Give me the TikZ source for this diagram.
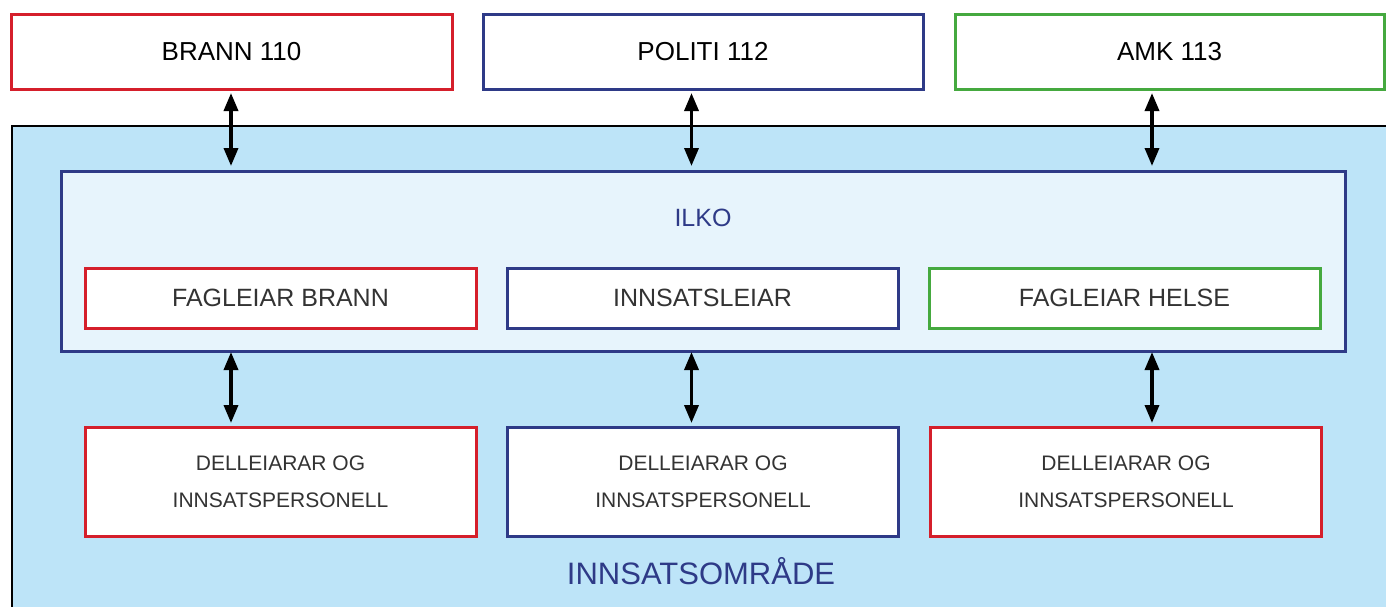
\documentclass[tikz,border=0pt]{standalone}
\usepackage{fontspec}
\setmainfont{Liberation Sans}
\usepackage{xcolor}
\usetikzlibrary{arrows.meta}
\usetikzlibrary{calc}
\usetikzlibrary{positioning}

\definecolor{brannred}{HTML}{D51F2B}
\definecolor{politiblue}{HTML}{2E3A87}
\definecolor{amkgreen}{HTML}{45A93F}
\definecolor{areablue}{HTML}{BDE4F8}
\definecolor{ilkoblue}{HTML}{E7F4FC}
\definecolor{textgrey}{HTML}{333333}

\begin{document}
\begin{tikzpicture}[x=1pt,y=-1pt,semithick]
  \tikzstyle{box}=[draw, rectangle, fill=white, line width=3pt, inner sep=0pt, outer sep=0pt]
  \tikzstyle{topbox}=[box, minimum height=75pt, font=\fontsize{26}{30}\selectfont]
  \tikzstyle{leadbox}=[box, minimum width=391pt, minimum height=60pt, text=textgrey, font=\fontsize{25}{30}\selectfont]
  \tikzstyle{unitbox}=[box, minimum width=391pt, minimum height=109pt, text=textgrey, align=center, font=\fontsize{21}{37}\selectfont]
  \tikzstyle{biarrow}=[{Triangle[length=18pt,width=14pt]}-{Triangle[length=18pt,width=14pt]}, line width=3.5pt, black]

  \useasboundingbox (0,0) rectangle (1386,606);

  % innsatsomraade
  \fill[areablue] (12,126) rectangle (1390,610);
  \draw[line width=1.5pt] (1390,126) -- (12,126) -- (12,610);
  \node[text=politiblue, font=\fontsize{31}{36}\selectfont] (omraade) at (701,571) {INNSATSOMRÅDE};

  % naudetatane
  \node[topbox, draw=brannred, minimum width=441pt] (brann) at (231.5,51.5) {BRANN 110};
  \node[topbox, draw=politiblue, minimum width=440pt] (politi) at (703,51.5) {POLITI 112};
  \node[topbox, draw=amkgreen, minimum width=429pt] (amk) at (1169.5,51.5) {AMK 113};

  % ilko
  \node[box, draw=politiblue, fill=ilkoblue, minimum width=1284pt, minimum height=180pt] (ilko) at (703,261) {};
  \node[text=politiblue, font=\fontsize{25}{30}\selectfont] (ilkotxt) at (703,218) {ILKO};
  \node[leadbox, draw=brannred] (fagbrann) at (280.5,298) {FAGLEIAR BRANN};
  \node[leadbox, draw=politiblue] (innsats) at (702.5,298) {INNSATSLEIAR};
  \node[leadbox, draw=amkgreen] (fagpolit) at (1124.5,298) {FAGLEIAR HELSE};

  % delleiarar
  \node[unitbox, draw=brannred] (delA) at (280.5,481.5) {DELLEIARAR OG\\INNSATSPERSONELL};
  \node[unitbox, draw=politiblue] (delB) at (703,481.5) {DELLEIARAR OG\\INNSATSPERSONELL};
  \node[unitbox, draw=brannred] (delC) at (1126,481.5) {DELLEIARAR OG\\INNSATSPERSONELL};

  % piler
  \coordinate (pA) at (231,0);
  \coordinate (pB) at (691.5,0);
  \coordinate (pC) at (1152,0);
  \foreach \p/\t/\d in {pA/brann/delA, pB/politi/delB, pC/amk/delC}{
    \draw[biarrow, shorten <=4pt, shorten >=5pt] (\p |- \t.south) -- (\p |- ilko.north);
    \draw[biarrow, shorten <=1pt, shorten >=4pt] (\p |- ilko.south) -- (\p |- \d.north);
  }
\end{tikzpicture}
\end{document}
